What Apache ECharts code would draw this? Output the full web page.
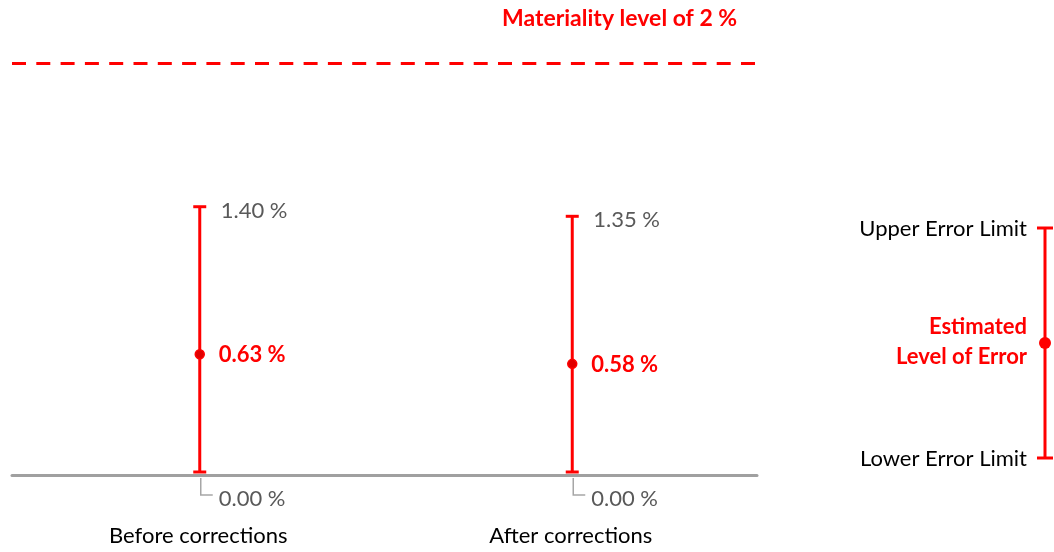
<!DOCTYPE html>
<html>
<head>
<meta charset="utf-8">
<script src="https://cdn.jsdelivr.net/npm/echarts@6/dist/echarts.min.js"></script>
<style>
  html, body { margin: 0; padding: 0; background: #fff; }
  #chart { width: 1054px; height: 552px; }
</style>
</head>
<body>
<div id="chart"></div>
<script>
var categories = ['Before corrections', 'After corrections'];
var estimated = [0.63, 0.58];
var upperLimit = [1.40, 1.35];
var lowerLimit = [0.00, 0.00];
var materiality = 2;
// top of the value axis; the materiality line sits on it like in the original
var axisTop = 2.15;

var RED = '#ff0000';
var GREY = '#595959';
var FONT = 'Lato, "Open Sans", sans-serif';

var myChart = echarts.init(document.getElementById('chart'));

var rows = [];
for (var i = 0; i < categories.length; i++) {
    rows.push([i, lowerLimit[i], estimated[i], upperLimit[i]]);
}

function fmt(v) { return v.toFixed(2) + ' %'; }

function renderErrorBar(params, api) {
    var x = api.value(0);
    var lo = api.coord([x, api.value(1)]);
    var est = api.coord([x, api.value(2)]);
    var hi = api.coord([x, api.value(3)]);
    var cx = lo[0] + 1.5;
    var capW = 6.5;
    var red = { stroke: RED, lineWidth: 3 };
    return {
        type: 'group',
        children: [
            { type: 'line', shape: { x1: cx, y1: lo[1] - 3, x2: cx, y2: hi[1] }, style: red },
            { type: 'line', shape: { x1: cx - capW, y1: hi[1], x2: cx + capW, y2: hi[1] }, style: red },
            { type: 'line', shape: { x1: cx - capW, y1: lo[1] - 3, x2: cx + capW, y2: lo[1] - 3 }, style: red },
            { type: 'circle', shape: { cx: cx, cy: est[1], r: 4.5 }, style: { fill: '#e00000', stroke: RED, lineWidth: 1.5 } },
            { type: 'text', x: cx + 21, y: hi[1] + 4, style: { text: fmt(api.value(3)), fill: GREY, font: '22px ' + FONT, verticalAlign: 'middle' } },
            { type: 'text', x: cx + 19, y: est[1] + 1, style: { text: fmt(api.value(2)), fill: RED, font: 'bold 22px ' + FONT, verticalAlign: 'middle' } },
            { type: 'polyline', shape: { points: [[cx + 1, lo[1] + 3], [cx + 1, lo[1] + 20], [cx + 13, lo[1] + 20]] }, style: { stroke: '#a6a6a6', lineWidth: 1.5, fill: null } },
            { type: 'text', x: cx + 19, y: lo[1] + 24, style: { text: fmt(api.value(1)), fill: GREY, font: '22px ' + FONT, verticalAlign: 'middle' } }
        ]
    };
}

var option = {
    animation: false,
    grid: { left: 12, right: 297, top: 63, bottom: 77, containLabel: false },
    xAxis: {
        type: 'category',
        data: categories,
        axisLine: { lineStyle: { color: '#a0a0a0', width: 3 } },
        axisTick: { show: false },
        axisLabel: { color: '#000', fontSize: 22, fontFamily: FONT, margin: 50 }
    },
    yAxis: {
        type: 'value',
        min: 0,
        max: axisTop,
        show: false,
        splitLine: { show: false }
    },
    series: [{
        type: 'custom',
        renderItem: renderErrorBar,
        data: rows,
        encode: { x: 0, y: [1, 2, 3] },
        markLine: {
            silent: true,
            symbol: 'none',
            lineStyle: { color: RED, type: [14, 10.3], width: 3 },
            label: {
                show: true,
                position: 'end',
                formatter: 'Materiality level of ' + materiality + ' %',
                color: RED,
                fontWeight: 'bold',
                fontSize: 23,
                fontFamily: FONT,
                distance: [0, 0],
                offset: [-255, -44]
            },
            data: [{ yAxis: axisTop }]
        }
    }],
    graphic: [
        { type: 'line', shape: { x1: 1045, y1: 228, x2: 1045, y2: 458 }, style: { stroke: RED, lineWidth: 3 } },
        { type: 'line', shape: { x1: 1037, y1: 228, x2: 1053, y2: 228 }, style: { stroke: RED, lineWidth: 3 } },
        { type: 'line', shape: { x1: 1037, y1: 458, x2: 1053, y2: 458 }, style: { stroke: RED, lineWidth: 3 } },
        { type: 'circle', shape: { cx: 1045, cy: 343, r: 6 }, style: { fill: RED } },
        { type: 'text', x: 1027, y: 229, style: { text: 'Upper Error Limit', fill: '#000', font: '22px ' + FONT, align: 'right', verticalAlign: 'middle' } },
        { type: 'text', x: 1027, y: 327, style: { text: 'Estimated', fill: RED, font: 'bold 22px ' + FONT, align: 'right', verticalAlign: 'middle' } },
        { type: 'text', x: 1027, y: 357, style: { text: 'Level of Error', fill: RED, font: 'bold 22px ' + FONT, align: 'right', verticalAlign: 'middle' } },
        { type: 'text', x: 1027, y: 459, style: { text: 'Lower Error Limit', fill: '#000', font: '22px ' + FONT, align: 'right', verticalAlign: 'middle' } }
    ]
};

myChart.setOption(option);
</script>
</body>
</html>
